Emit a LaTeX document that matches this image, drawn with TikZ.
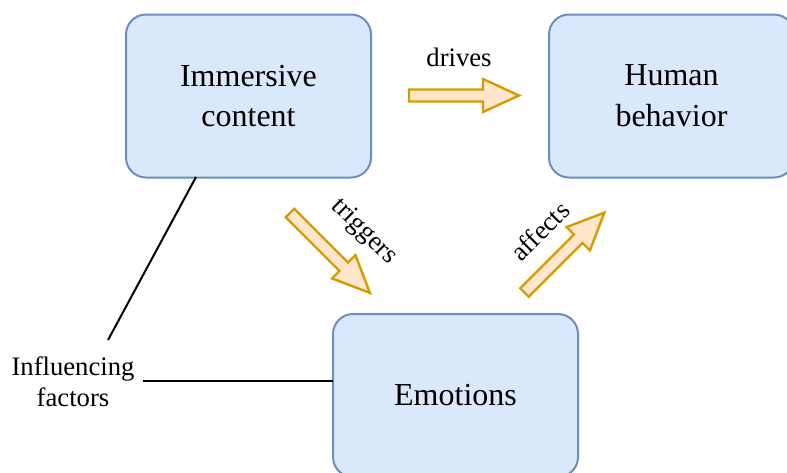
\documentclass[tikz,border=0pt]{standalone}
\usepackage{fontspec}
\setmainfont{Liberation Serif}
\definecolor{boxfill}{HTML}{DAE8FC}
\definecolor{boxline}{HTML}{6C8EBF}
\definecolor{arrfill}{HTML}{FFE6CC}
\definecolor{arrline}{HTML}{D79B00}
\begin{document}
\begin{tikzpicture}[x=0.75pt,y=-0.75pt,
  box/.style={draw=boxline,fill=boxfill,line width=1.5pt,rounded corners=15pt,
    minimum width=183.75pt,minimum height=122.25pt,align=center,
    font=\fontsize{24}{30.5}\selectfont},
  lbl/.style={font=\fontsize{20}{23}\selectfont,align=center,inner sep=0pt},
  link/.style={line width=1.5pt,black},
  blockarrow/.style={draw=arrline,fill=arrfill,line width=1.8pt,line join=miter}]
\useasboundingbox (0,0) rectangle (787,472);
\begin{scope}
\clip (0,0) rectangle (787,472);

% main boxes
\node[box] (imm) at (248.5,96) {Immersive\\content};
\node[box] (hum) at (671.5,96) {Human\\behavior};
\node[box] (emo) at (455.5,395.5) {Emotions};

% free-standing factor label
\node[lbl] (inf) at (73,382) {Influencing\\factors};

% plain connectors
\coordinate (immfoot) at (196,177);
\coordinate (inftop) at (108,340);
\coordinate (infright) at (143,381);
\coordinate (emoleft) at (333,381);
\draw[link] (immfoot) -- (inftop);
\draw[link] (infright) -- (emoleft);

% block arrows (local frame points right)
\coordinate (drivesstart) at (409,95.5);
\coordinate (triggersstart) at (290,213);
\coordinate (affectsstart) at (524.5,292.5);
\begin{scope}[shift={(drivesstart)}]
  \draw[blockarrow] (0,-6) -- (74,-6) -- (74,-16.5) -- (110,0) -- (74,16.5) -- (74,6) -- (0,6) -- cycle;
\end{scope}
\begin{scope}[shift={(triggersstart)},rotate=-45]
  \draw[blockarrow] (0,-6) -- (76,-6) -- (76,-16.5) -- (113,0) -- (76,16.5) -- (76,6) -- (0,6) -- cycle;
\end{scope}
\begin{scope}[shift={(affectsstart)},rotate=45]
  \draw[blockarrow] (0,-6) -- (76,-6) -- (76,-16.5) -- (113,0) -- (76,16.5) -- (76,6) -- (0,6) -- cycle;
\end{scope}

% arrow labels
\node[lbl] (drives) at (459,57) {drives};
\node[lbl,rotate=-45] (triggers) at (364,232) {triggers};
\node[lbl,rotate=45] (affects) at (540,231) {affects};
\end{scope}
\end{tikzpicture}
\end{document}
